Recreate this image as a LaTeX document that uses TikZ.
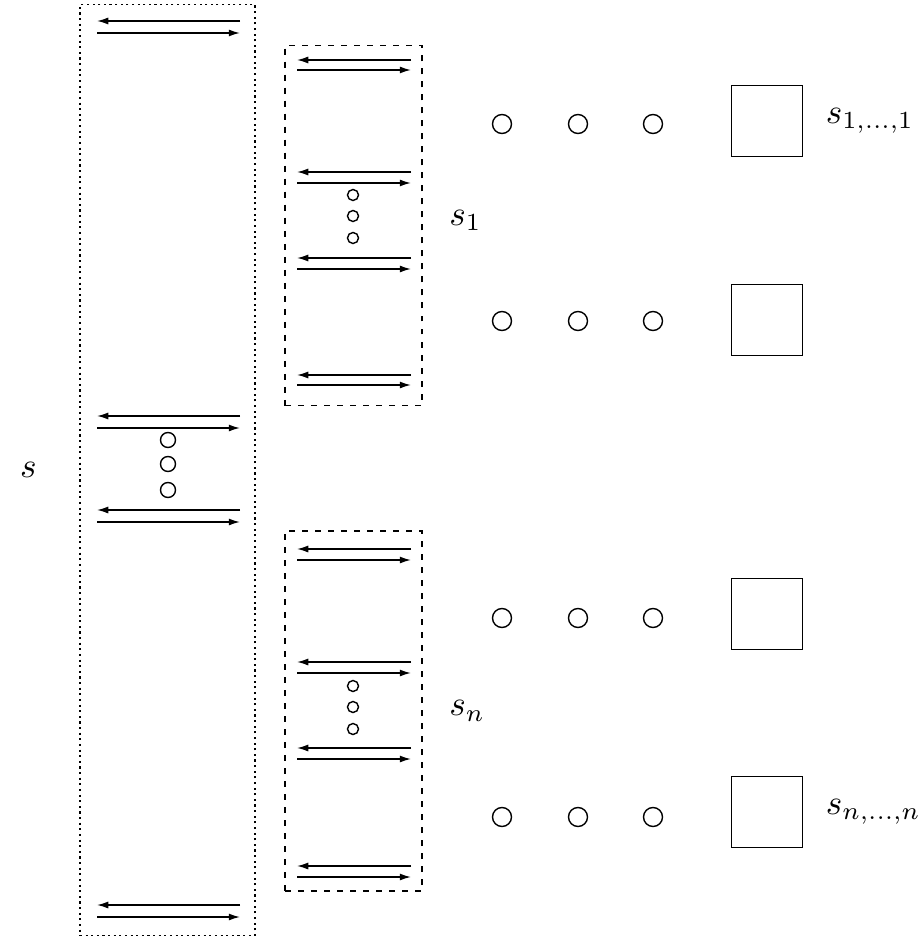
\documentclass[tikz,border=0pt]{standalone}
\usepackage{tikz}
\usetikzlibrary{arrows.meta,positioning}

\begin{document}
\begin{tikzpicture}[
  x=0.01cm, y=-0.01cm,
  % Node styles
  outerbox/.style={rectangle, draw=black, dash pattern=on 0.6pt off 1pt, minimum width=1.75cm, minimum height=9.3cm, inner sep=0pt},
  innerbox/.style={rectangle, draw=black, dash pattern=on 1.7pt off 2pt, minimum width=1.37cm, minimum height=3.6cm, inner sep=0pt},
  state/.style={rectangle, draw=black, minimum size=0.71cm, inner sep=0pt},
  dot/.style={circle, draw=black, minimum size=0.19cm, inner sep=0pt},
  vdot/.style={circle, draw=black, minimum size=0.15cm, inner sep=0pt},
  sdot/.style={circle, draw=black, minimum size=0.11cm, inner sep=0pt},
  lbl/.style={inner sep=0pt},
  arr/.style={-{Latex[length=3.2pt,width=2pt]}, thin, color=black}
]
  \useasboundingbox (0,0) rectangle (920,940);

  % Boxes
  \node[outerbox] (outer) at (167.5,470) {};
  \node[innerbox] (box1) at (353.5,225.5) {};
  \node[innerbox] (boxn) at (353.5,711) {};

  % Arrows in the outer box
  \foreach \i/\ya/\yb in {1/21/33, 2/416/428, 3/510/522, 4/905/917} {
    \coordinate (oLa\i) at (97,\ya);
    \coordinate (oRa\i) at (240,\ya);
    \coordinate (oLb\i) at (97,\yb);
    \coordinate (oRb\i) at (240,\yb);
    \draw[arr] (oRa\i) -- (oLa\i);
    \draw[arr] (oLb\i) -- (oRb\i);
  }
  \foreach \k/\y in {1/440, 2/464, 3/490}
    \node[vdot] (od\k) at (168,\y) {};

  % Arrows in the inner boxes
  \foreach \i/\ya/\yb in {1/60/70, 2/172/183, 3/258/269, 4/375/385,
                          5/549/560, 6/662/673, 7/748/759, 8/866/877} {
    \coordinate (iLa\i) at (297,\ya);
    \coordinate (iRa\i) at (411,\ya);
    \coordinate (iLb\i) at (297,\yb);
    \coordinate (iRb\i) at (411,\yb);
    \draw[arr] (iRa\i) -- (iLa\i);
    \draw[arr] (iLb\i) -- (iRb\i);
  }
  \foreach \k/\y in {1/195, 2/216, 3/238}
    \node[sdot] (d1\k) at (353,\y) {};
  \foreach \k/\y in {1/686, 2/707, 3/729}
    \node[sdot] (dn\k) at (353,\y) {};

  % Rows of circles and final states
  \foreach \r/\y in {1/124, 2/321, 3/618, 4/817} {
    \foreach \k/\x in {1/502, 2/578, 3/653}
      \node[dot] (c\r\k) at (\x,\y) {};
  }
  \foreach \r/\y in {1/121, 2/320, 3/614, 4/812}
    \node[state] (q\r) at (767,\y) {};

  % Labels
  \node[lbl, left=0.42cm of outer] (ls) {$s$};
  \node[lbl, right=0.26cm of box1, yshift=0.5mm] (ls1) {$s_1$};
  \node[lbl, right=0.26cm of boxn] (lsn) {$s_n$};
  \node[lbl, right=0.22cm of q1] (lq1) {$s_{1,\dots,1}$};
  \node[lbl, right=0.22cm of q4] (lq4) {$s_{n,\dots,n}$};

\end{tikzpicture}
\end{document}
